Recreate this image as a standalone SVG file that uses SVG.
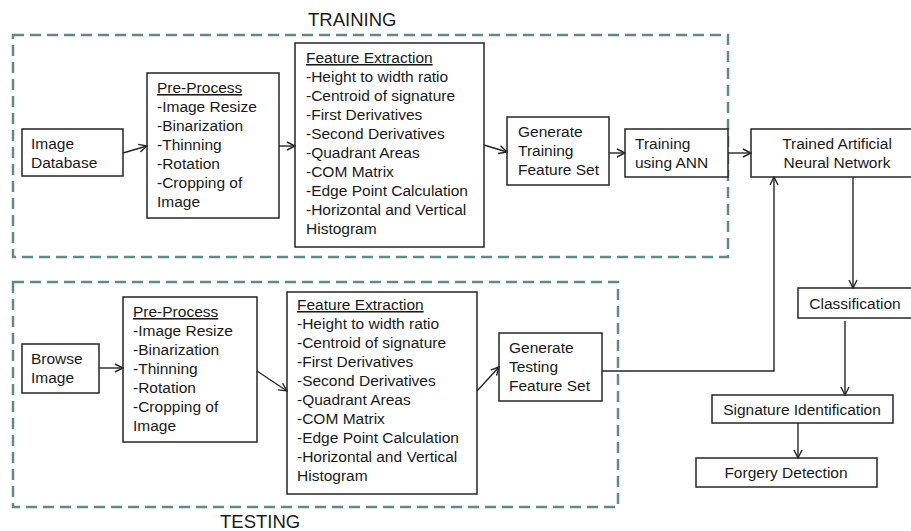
<svg xmlns="http://www.w3.org/2000/svg" width="911" height="531" viewBox="0 0 911 531">
<style>
text{font-family:"Liberation Sans",Arial,sans-serif;font-size:15.5px;fill:#1a1a1a}
.t{font-size:18.5px}
.box{fill:#fff;stroke:#262626;stroke-width:1.5}
.dash{fill:none;stroke:#628a8c;stroke-width:2.5;stroke-dasharray:11 6}
.c{fill:none;stroke:#262626;stroke-width:1.4}
.u{text-decoration:underline}
.m{text-anchor:middle}
</style>
<defs>
<marker id="ah" viewBox="0 0 10 10" refX="9" refY="5" markerWidth="10" markerHeight="10" markerUnits="userSpaceOnUse" orient="auto">
<path d="M1,1 L9,5 L1,9" fill="none" stroke="#262626" stroke-width="1.4"/>
</marker>
</defs>
<g id="training-group">
<rect class="dash" x="13" y="35" width="715" height="222"/>
<text class="t" x="308" y="26">TRAINING</text>
</g>
<g id="testing-group">
<rect class="dash" x="13" y="282" width="605" height="225"/>
<text class="t" x="220" y="527.5">TESTING</text>
</g>
<g id="image-database">
<rect class="box" x="22" y="129" width="101" height="47"/>
<text x="31" y="149">Image</text>
<text x="31" y="168">Database</text>
</g>
<g id="preprocess-train">
<rect class="box" x="147" y="73" width="132" height="145"/>
<text x="157" y="93"><tspan class="u">Pre-Process</tspan></text>
<text x="157" y="112">-Image Resize</text>
<text x="157" y="131">-Binarization</text>
<text x="157" y="150">-Thinning</text>
<text x="157" y="169">-Rotation</text>
<text x="157" y="188">-Cropping of</text>
<text x="157" y="207">Image</text>
</g>
<g id="feature-train">
<rect class="box" x="295" y="43" width="189" height="204"/>
<text x="306" y="63"><tspan class="u">Feature Extraction</tspan></text>
<text x="306" y="82">-Height to width ratio</text>
<text x="306" y="101">-Centroid of signature</text>
<text x="306" y="120">-First Derivatives</text>
<text x="306" y="139">-Second Derivatives</text>
<text x="306" y="158">-Quadrant Areas</text>
<text x="306" y="177">-COM Matrix</text>
<text x="306" y="196">-Edge Point Calculation</text>
<text x="306" y="215">-Horizontal and Vertical</text>
<text x="306" y="234">Histogram</text>
</g>
<g id="gen-train">
<rect class="box" x="507" y="117" width="102" height="68"/>
<text x="518" y="137">Generate</text>
<text x="518" y="156">Training</text>
<text x="518" y="175">Feature Set</text>
</g>
<g id="train-ann">
<rect class="box" x="625" y="129" width="103" height="48"/>
<text x="635" y="149">Training</text>
<text x="635" y="168">using ANN</text>
</g>
<g id="trained-ann">
<rect class="box" x="751" y="129" width="165" height="48"/>
<text class="m" x="837" y="149">Trained Artificial</text>
<text class="m" x="837" y="168">Neural Network</text>
</g>
<g id="browse-image">
<rect class="box" x="22" y="344" width="77" height="49"/>
<text x="31" y="364">Browse</text>
<text x="31" y="383">Image</text>
</g>
<g id="preprocess-test">
<rect class="box" x="123" y="297" width="134" height="145"/>
<text x="133" y="317"><tspan class="u">Pre-Process</tspan></text>
<text x="133" y="336">-Image Resize</text>
<text x="133" y="355">-Binarization</text>
<text x="133" y="374">-Thinning</text>
<text x="133" y="393">-Rotation</text>
<text x="133" y="412">-Cropping of</text>
<text x="133" y="431">Image</text>
</g>
<g id="feature-test">
<rect class="box" x="287" y="292" width="190" height="202"/>
<text x="297" y="310"><tspan class="u">Feature Extraction</tspan></text>
<text x="297" y="329">-Height to width ratio</text>
<text x="297" y="348">-Centroid of signature</text>
<text x="297" y="367">-First Derivatives</text>
<text x="297" y="386">-Second Derivatives</text>
<text x="297" y="405">-Quadrant Areas</text>
<text x="297" y="424">-COM Matrix</text>
<text x="297" y="443">-Edge Point Calculation</text>
<text x="297" y="462">-Horizontal and Vertical</text>
<text x="297" y="481">Histogram</text>
</g>
<g id="gen-test">
<rect class="box" x="499" y="333" width="103" height="68"/>
<text x="509" y="353">Generate</text>
<text x="509" y="372">Testing</text>
<text x="509" y="391">Feature Set</text>
</g>
<g id="classification">
<rect class="box" x="798" y="288" width="118" height="30"/>
<text class="m" x="855" y="309">Classification</text>
</g>
<g id="signature-id">
<rect class="box" x="712" y="395" width="181" height="28"/>
<text class="m" x="802" y="415">Signature Identification</text>
</g>
<g id="forgery">
<rect class="box" x="696" y="458" width="181" height="29"/>
<text class="m" x="786" y="478">Forgery Detection</text>
</g>
<g id="connectors">
<line class="c" x1="123" y1="153" x2="147" y2="146" marker-end="url(#ah)"/>
<line class="c" x1="279" y1="146" x2="295" y2="146" marker-end="url(#ah)"/>
<line class="c" x1="484" y1="145" x2="507" y2="152" marker-end="url(#ah)"/>
<line class="c" x1="609" y1="153" x2="625" y2="153" marker-end="url(#ah)"/>
<line class="c" x1="728" y1="153" x2="751" y2="153" marker-end="url(#ah)"/>
<line class="c" x1="99" y1="368" x2="123" y2="368" marker-end="url(#ah)"/>
<line class="c" x1="257" y1="371" x2="287" y2="391" marker-end="url(#ah)"/>
<line class="c" x1="477" y1="391" x2="499" y2="367" marker-end="url(#ah)"/>
<polyline class="c" points="602,371 774,371 774,177" marker-end="url(#ah)"/>
<line class="c" x1="853" y1="177" x2="853" y2="288" marker-end="url(#ah)"/>
<line class="c" x1="845" y1="321" x2="845" y2="395" marker-end="url(#ah)"/>
<line class="c" x1="798" y1="423" x2="798" y2="458" marker-end="url(#ah)"/>
</g>
</svg>
